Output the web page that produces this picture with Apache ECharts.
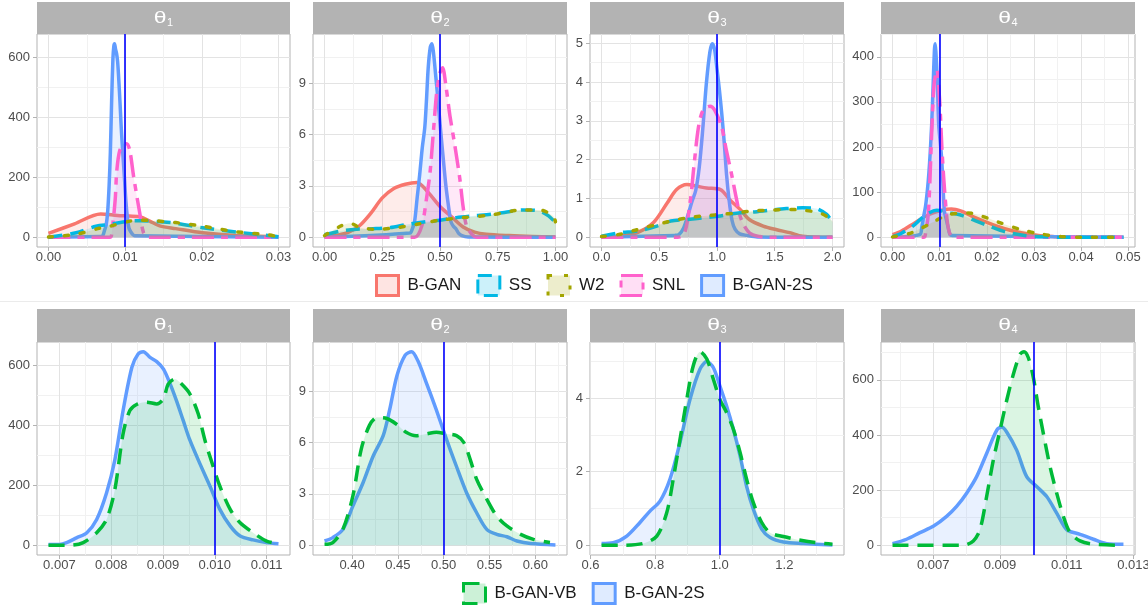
<!DOCTYPE html>
<html><head><meta charset="utf-8">
<script src="https://cdn.jsdelivr.net/npm/echarts@6/dist/echarts.min.js"></script>
<style>html,body{margin:0;padding:0;background:#fff}#c{width:1148px;height:607px}</style>
</head><body><div id="c"></div>
<script>
// ================= DATA =================
const subscripts = ['1', '2', '3', '4'];
const trueValues = [0.01, 0.5, 1.0, 0.01];
const topLegendNames = ['B-GAN', 'SS', 'W2', 'SNL', 'B-GAN-2S'];
const bottomLegendNames = ['B-GAN-VB', 'B-GAN-2S'];

// ---- top row: theta1 ----
const t1_bgan = [[0,13],[0.0034,45],[0.0068,78],[0.009,73],[0.0105,71],[0.012,68],[0.0132,54],[0.0145,38],[0.0166,29],[0.0201,15],[0.0244,6],[0.03,2]];
const t1_ss = [[0,0],[0.0036,15],[0.0062,37],[0.008,43],[0.0106,54],[0.012,55],[0.0159,49],[0.0201,32],[0.0244,18],[0.03,2]];
const t1_w2 = [[0,1],[0.0036,10],[0.0066,30],[0.008,37],[0.0106,54],[0.012,57],[0.0166,49],[0.0201,37],[0.0244,19],[0.0287,8],[0.03,1]];
const t1_snl = [[0,0],[0.008,0],[0.0083,27],[0.0087,126],[0.0089,220],[0.0093,290],[0.0099,308],[0.0102,312],[0.0106,290],[0.0111,203],[0.0119,81],[0.0124,15],[0.013,0],[0.03,0]];
// ---- top row: theta2 ----
const t2_bgan = [[0,0.02],[0.05,0.12],[0.1,0.27],[0.15,0.66],[0.2,1.4],[0.25,2.3],[0.3,2.85],[0.35,3.1],[0.4,3.2],[0.45,2.6],[0.5,1.8],[0.55,1.2],[0.6,0.6],[0.65,0.3],[0.7,0.18],[0.8,0.1],[0.9,0.05],[1.0,0.02]];
const t2_ss = [[0,0.15],[0.07,0.37],[0.14,0.47],[0.21,0.5],[0.28,0.56],[0.36,0.76],[0.43,0.9],[0.5,1.0],[0.57,1.15],[0.64,1.25],[0.72,1.34],[0.79,1.48],[0.86,1.6],[0.93,1.54],[0.97,1.25],[1.0,0.86]];
const t2_w2 = [[0,0.1],[0.07,0.66],[0.11,0.82],[0.155,0.56],[0.227,0.47],[0.31,0.56],[0.4,0.76],[0.5,1.0],[0.6,1.15],[0.72,1.3],[0.86,1.6],[0.93,1.6],[0.99,1.25],[1.0,0.9]];
const t2_snl = [[0,0],[0.39,0],[0.421,0.66],[0.443,2.4],[0.457,3.8],[0.471,6.1],[0.486,8.5],[0.5,9.6],[0.511,9.9],[0.526,8.8],[0.543,7.1],[0.565,5.3],[0.586,3.4],[0.6,1.8],[0.615,0.66],[0.64,0.15],[0.66,0],[1.0,0]];
// ---- top row: theta3 ----
const t3_bgan = [[0,0],[0.16,0.03],[0.31,0.12],[0.45,0.38],[0.57,0.89],[0.65,1.23],[0.74,1.36],[0.82,1.32],[0.91,1.27],[1.03,1.23],[1.11,0.97],[1.2,0.72],[1.28,0.46],[1.4,0.29],[1.51,0.2],[1.63,0.12],[1.74,0.03],[2.0,0]];
const t3_ss = [[0,0.03],[0.16,0.12],[0.31,0.16],[0.48,0.29],[0.6,0.42],[0.74,0.46],[0.88,0.5],[1.03,0.55],[1.17,0.62],[1.31,0.65],[1.46,0.7],[1.6,0.74],[1.74,0.76],[1.86,0.74],[1.95,0.59],[2.0,0.39]];
const t3_w2 = [[0,0.02],[0.16,0.08],[0.31,0.2],[0.48,0.33],[0.6,0.42],[0.74,0.5],[0.88,0.55],[1.03,0.59],[1.17,0.63],[1.31,0.68],[1.46,0.7],[1.6,0.72],[1.74,0.7],[1.89,0.63],[1.97,0.5],[2.0,0.42]];
const t3_snl = [[0,0],[0.66,0],[0.72,0.12],[0.77,0.97],[0.8,1.83],[0.84,2.85],[0.88,3.28],[0.94,3.38],[0.98,3.28],[1.04,2.85],[1.08,2.26],[1.13,1.57],[1.17,0.97],[1.21,0.46],[1.28,0.12],[1.37,0.02],[1.45,0],[2.0,0]];
// ---- top row: theta4 ----
const t4_bgan = [[0,6],[0.0019,14],[0.0047,32],[0.0076,50],[0.0104,60],[0.0125,63],[0.0146,58],[0.0168,47],[0.0203,32],[0.0238,19],[0.0273,10],[0.0309,4],[0.0344,1.5],[0.038,0],[0.049,0]];
const t4_ss = [[0,1.5],[0.0019,9],[0.0047,28],[0.0068,48],[0.0094,60],[0.0118,55],[0.0146,49],[0.0175,37],[0.0205,25],[0.024,12],[0.028,4],[0.032,1],[0.036,0],[0.049,0]];
const t4_w2 = [[0,1],[0.004,10],[0.0083,32],[0.0118,50],[0.016,54],[0.0189,47],[0.0224,34],[0.0273,17],[0.0316,7],[0.0358,1.5],[0.04,0],[0.049,0]];
const t4_snl = [[0,0],[0.0066,0],[0.0069,3],[0.0076,54],[0.0083,229],[0.0088,338],[0.0094,371],[0.01,302],[0.0105,192],[0.0112,83],[0.0119,17],[0.0129,0],[0.049,0]];

// ---- bottom row (B-GAN-2S is the same sample as in the top row) ----
const b1_b2s = [[0.00679,3],[0.0070,3],[0.00714,9],[0.00733,25],[0.00753,42],[0.00772,86],[0.00791,174],[0.00807,284],[0.00823,449],[0.0084,593],[0.00852,637],[0.00862,645],[0.00875,626],[0.00888,612],[0.00901,587],[0.00914,537],[0.00926,482],[0.00939,416],[0.00952,350],[0.00971,273],[0.00991,196],[0.0101,119],[0.0103,64],[0.01049,31],[0.01074,18],[0.011,9],[0.01123,5]];
const b1_vb = [[0.00679,0],[0.0072,0],[0.00746,9],[0.00772,42],[0.00791,86],[0.00807,185],[0.00823,372],[0.00836,449],[0.00849,469],[0.00868,477],[0.00888,471],[0.00901,488],[0.0091,537],[0.00923,554],[0.00936,537],[0.00952,504],[0.00968,438],[0.00981,350],[0.00997,262],[0.0101,196],[0.0103,119],[0.01049,75],[0.01074,42],[0.011,14],[0.01123,5]];
const b2_b2s = [[0.37,0.25],[0.379,0.45],[0.39,0.93],[0.401,2.3],[0.412,3.65],[0.423,5.2],[0.434,6.4],[0.441,7.9],[0.449,9.9],[0.458,11.1],[0.465,11.3],[0.472,10.75],[0.481,9.5],[0.492,7.9],[0.503,6.2],[0.514,4.6],[0.525,3.07],[0.536,1.9],[0.547,0.93],[0.558,0.64],[0.569,0.5],[0.58,0.25],[0.595,0.1],[0.622,0.02]];
const b2_vb = [[0.37,0.06],[0.379,0.16],[0.39,0.93],[0.401,2.9],[0.41,5.6],[0.419,7.0],[0.427,7.45],[0.438,7.4],[0.449,7.05],[0.459,6.6],[0.47,6.4],[0.481,6.5],[0.492,6.6],[0.503,6.5],[0.514,6.4],[0.522,6.0],[0.529,5.0],[0.536,3.85],[0.547,2.7],[0.558,1.7],[0.569,1.13],[0.584,0.64],[0.598,0.35],[0.616,0.16]];
const b3_b2s = [[0.634,0.05],[0.67,0.07],[0.712,0.25],[0.753,0.62],[0.784,0.93],[0.815,1.2],[0.846,1.8],[0.877,2.8],[0.908,3.97],[0.939,4.79],[0.96,4.99],[0.98,4.83],[1.0,4.34],[1.021,3.79],[1.042,3.16],[1.063,2.43],[1.083,1.61],[1.104,0.98],[1.13,0.44],[1.156,0.21],[1.197,0.09],[1.259,0.05],[1.349,0.01]];
const b3_vb = [[0.634,0],[0.69,0],[0.763,0.05],[0.805,0.25],[0.836,0.89],[0.856,1.8],[0.877,2.88],[0.898,3.97],[0.918,4.88],[0.939,5.26],[0.96,5.06],[0.98,4.52],[1.0,3.97],[1.021,3.61],[1.042,3.16],[1.063,2.52],[1.083,1.8],[1.104,1.16],[1.13,0.62],[1.156,0.34],[1.197,0.24],[1.238,0.16],[1.3,0.07],[1.349,0.03]];
const b4_b2s = [[0.00578,6],[0.0062,22],[0.0066,46],[0.007,69],[0.0074,105],[0.0077,141],[0.008,189],[0.0083,249],[0.0086,333],[0.0089,417],[0.00905,429],[0.0092,411],[0.0095,345],[0.0098,249],[0.0101,213],[0.0104,177],[0.0107,117],[0.011,57],[0.0114,40],[0.0118,22],[0.0122,6],[0.0127,4]];
const b4_vb = [[0.00578,0],[0.0079,0],[0.0082,16],[0.0084,57],[0.0086,177],[0.0088,309],[0.009,417],[0.0092,525],[0.0094,620],[0.0096,692],[0.00972,702],[0.00985,680],[0.01,608],[0.01015,501],[0.0103,405],[0.0105,285],[0.0107,189],[0.0109,105],[0.0111,46],[0.0114,16],[0.0118,4],[0.0127,0]];

// ---- tick labels ----
const topXTicks = [[0,0.01,0.02,0.03],[0,0.25,0.5,0.75,1],[0,0.5,1,1.5,2],[0,0.01,0.02,0.03,0.04,0.05]];
const topXDecimals = [2,2,1,2];
const topYTicks = [[0,200,400,600],[0,3,6,9],[0,1,2,3,4,5],[0,100,200,300,400]];
const bottomXTicks = [[0.007,0.008,0.009,0.010,0.011],[0.40,0.45,0.50,0.55,0.60],[0.6,0.8,1.0,1.2],[0.007,0.009,0.011,0.013]];
const bottomXDecimals = [3,2,1,3];
const bottomYTicks = [[0,200,400,600],[0,3,6,9],[0,2,4],[0,200,400,600]];

// ================= STYLE / LAYOUT =================
const FONT = '"Liberation Sans", Arial, Helvetica, sans-serif';
const colors = {'B-GAN':'#F8766D','SS':'#00B8E5','W2':'#A3A500','SNL':'#FF61CC','B-GAN-2S':'#619CFF','B-GAN-VB':'#00BA38'};
const dashes = {'B-GAN':'solid','SS':[14,8],'W2':[4,12],'SNL':[22,7,7,7],'B-GAN-2S':'solid','B-GAN-VB':[16,9]};
const panelX = [[37,290],[313,567],[590,844],[881,1135]];
const rowTop = [34, 342], rowH = 213;
const stripTop = [2, 309], stripH = [32, 33];

function rgba(hex, a) {
  const n = parseInt(hex.slice(1), 16);
  return 'rgba(' + ((n >> 16) & 255) + ',' + ((n >> 8) & 255) + ',' + (n & 255) + ',' + a + ')';
}
function minorOf(ticks, lo, hi) {
  const step = ticks[1] - ticks[0], out = [];
  const cand = [ticks[0] - step / 2].concat(ticks.map(t => t + step / 2));
  cand.forEach(v => { if (v > lo && v < hi) out.push(v); });
  return out;
}

const topData = [
  {'B-GAN': t1_bgan, 'B-GAN-2S': b1_b2s, 'SNL': t1_snl, 'SS': t1_ss, 'W2': t1_w2},
  {'B-GAN': t2_bgan, 'B-GAN-2S': b2_b2s, 'SNL': t2_snl, 'SS': t2_ss, 'W2': t2_w2},
  {'B-GAN': t3_bgan, 'B-GAN-2S': b3_b2s, 'SNL': t3_snl, 'SS': t3_ss, 'W2': t3_w2},
  {'B-GAN': t4_bgan, 'B-GAN-2S': b4_b2s, 'SNL': t4_snl, 'SS': t4_ss, 'W2': t4_w2}
];
const bottomData = [
  {'B-GAN-2S': b1_b2s, 'B-GAN-VB': b1_vb},
  {'B-GAN-2S': b2_b2s, 'B-GAN-VB': b2_vb},
  {'B-GAN-2S': b3_b2s, 'B-GAN-VB': b3_vb},
  {'B-GAN-2S': b4_b2s, 'B-GAN-VB': b4_vb}
];

const grids = [], xAxes = [], yAxes = [], series = [], graphics = [];
const minorX = [], minorY = [];

function addPanel(gi, row, p, dataMap, xTicks, xDec, yTicks, isTop) {
  const [x0, x1] = panelX[p];
  grids.push({left: x0, top: rowTop[row], width: x1 - x0, height: rowH, show: true,
    borderColor: '#B3B3B3', borderWidth: 1, backgroundColor: '#fff', containLabel: false, outerBoundsMode: 'none'});
  const names = Object.keys(dataMap);
  let xs = [], ys = [];
  names.forEach(n => {
    if (!(isTop && n === 'B-GAN-2S')) dataMap[n].forEach(d => xs.push(d[0]));
    dataMap[n].forEach(d => ys.push(d[1]));
  });
  const xlo = Math.min(...xs), xhi = Math.max(...xs), xpad = 0.05 * (xhi - xlo);
  const ymax = Math.max(...ys), ypad = 0.05 * ymax;
  const xmin = xlo - xpad, xmax = xhi + xpad, ymin = -ypad, ymaxA = ymax + ypad;

  xAxes.push({type: 'value', gridIndex: gi, min: xmin, max: xmax, position: 'bottom',
    axisLine: {show: false, onZero: false},
    axisTick: {show: true, length: 4, lineStyle: {color: '#B3B3B3', width: 1}, customValues: xTicks},
    axisLabel: {show: true, customValues: xTicks, formatter: v => Number(v).toFixed(xDec), color: '#4D4D4D', fontSize: 13, fontFamily: FONT, margin: 4},
    splitLine: {show: true, lineStyle: {color: '#E3E3E3', width: 1}}});
  yAxes.push({type: 'value', gridIndex: gi, min: ymin, max: ymaxA, position: 'left',
    axisLine: {show: false, onZero: false},
    axisTick: {show: true, length: 4, lineStyle: {color: '#B3B3B3', width: 1}, customValues: yTicks},
    axisLabel: {show: true, customValues: yTicks, formatter: v => String(Math.round(v)), color: '#4D4D4D', fontSize: 13, fontFamily: FONT, margin: 7},
    splitLine: {show: true, lineStyle: {color: '#E3E3E3', width: 1}}});
  const mx = minorOf(xTicks, xmin, xmax), my = minorOf(yTicks, ymin, ymaxA);
  minorX.push({type: 'value', gridIndex: gi, min: xmin, max: xmax, position: 'top',
    axisLine: {show: false, onZero: false}, axisTick: {show: false, customValues: mx},
    axisLabel: {show: false, customValues: mx}, splitLine: {show: true, lineStyle: {color: '#F1F1F1', width: 1}}});
  minorY.push({type: 'value', gridIndex: gi, min: ymin, max: ymaxA, position: 'right',
    axisLine: {show: false, onZero: false}, axisTick: {show: false, customValues: my},
    axisLabel: {show: false, customValues: my}, splitLine: {show: true, lineStyle: {color: '#F1F1F1', width: 1}}});

  names.forEach((n, k) => {
    let data = dataMap[n];
    if (isTop && n === 'B-GAN-2S') data = [[xlo, 0]].concat(data, [[xhi, 0]]);
    series.push({type: 'line', name: n, xAxisIndex: gi, yAxisIndex: gi, data: data,
      smooth: 0.3, showSymbol: false, symbol: 'none', z: 2 + k, silent: true,
      emphasis: {disabled: true},
      lineStyle: {color: colors[n], width: 3.5, type: dashes[n], cap: n === 'W2' ? 'round' : 'butt', join: 'round'},
      itemStyle: {color: colors[n]},
      areaStyle: {color: rgba(colors[n], 0.2), origin: 'auto'},
      markLine: k === names.length - 1 ? {silent: true, z: 30, symbol: ['none', 'none'], label: {show: false},
        lineStyle: {color: '#0000FF', width: 1.6, type: 'solid'}, emphasis: {disabled: true},
        data: [{xAxis: trueValues[p]}]} : undefined
    });
  });

  // facet strip
  const cx = (x0 + x1) / 2, cy = stripTop[row] + stripH[row] / 2;
  graphics.push({type: 'rect', shape: {x: x0, y: stripTop[row], width: x1 - x0, height: stripH[row]}, style: {fill: '#B3B3B3'}, silent: true});
  graphics.push({type: 'text', x: cx + 3, y: cy, scaleX: 1.35, style: {text: 'θ', fill: '#FFFFFF', fontSize: 17, fontFamily: FONT, align: 'right', verticalAlign: 'middle'}, silent: true});
  graphics.push({type: 'text', x: cx + 3.5, y: cy + 4.5, style: {text: subscripts[p], fill: '#FFFFFF', fontSize: 11, fontFamily: FONT, align: 'left', verticalAlign: 'middle'}, silent: true});
}

for (let p = 0; p < 4; p++) addPanel(p, 0, p, topData[p], topXTicks[p], topXDecimals[p], topYTicks[p], true);
for (let p = 0; p < 4; p++) addPanel(4 + p, 1, p, bottomData[p], bottomXTicks[p], bottomXDecimals[p], bottomYTicks[p], false);

minorX.forEach(a => xAxes.push(a));
minorY.forEach(a => yAxes.push(a));

graphics.push({type: 'line', shape: {x1: 0, y1: 301.5, x2: 1148, y2: 301.5}, style: {stroke: '#EBEBEB', lineWidth: 1}, silent: true});

function legendItems(names) {
  return names.map(n => ({name: n, icon: 'rect',
    itemStyle: {color: rgba(colors[n], 0.2), borderColor: colors[n], borderWidth: 3, borderType: dashes[n], opacity: 1}}));
}

const option = {
  animation: false,
  backgroundColor: '#ffffff',
  grid: grids,
  xAxis: xAxes,
  yAxis: yAxes,
  series: series,
  graphic: graphics,
  legend: [
    {left: 375, top: 274, padding: 0, itemWidth: 22, itemHeight: 20, itemGap: 15, selectedMode: false, icon: 'rect',
      textStyle: {fontSize: 17, color: '#1A1A1A', fontFamily: FONT, padding: [0, 0, 0, 4]}, data: legendItems(topLegendNames)},
    {left: 462, top: 582, padding: 0, itemWidth: 22, itemHeight: 20, itemGap: 15, selectedMode: false, icon: 'rect',
      textStyle: {fontSize: 17, color: '#1A1A1A', fontFamily: FONT, padding: [0, 0, 0, 4]}, data: legendItems(bottomLegendNames)}
  ]
};

const chart = echarts.init(document.getElementById('c'), null, {renderer: 'canvas', width: 1148, height: 607});
chart.setOption(option);
</script>
</body></html>
